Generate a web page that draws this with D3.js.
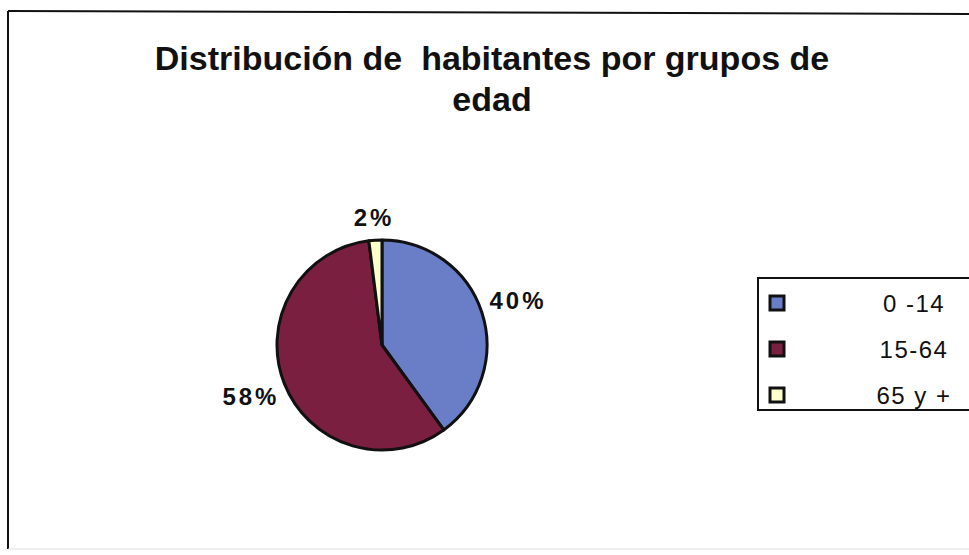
<!DOCTYPE html>
<html>
<head>
<meta charset="utf-8">
<script src="https://cdn.jsdelivr.net/npm/d3@7"></script>
<style>
  body { margin: 0; background: #fff; }
  svg { display: block; font-family: "Liberation Sans", Arial, sans-serif; }
</style>
</head>
<body>
<div id="chart"></div>
<script>
// data
var categories = ["0 -14", "15-64", "65 y +"];
var values = [40, 58, 2];
var labels = ["40%", "58%", "2%"];
var colors = ["#6a7ec8", "#7b1f40", "#ffffcc"];
var titleLines = ["Distribución de  habitantes por grupos de", "edad"];

var width = 969, height = 555;

var svg = d3.select("#chart")
    .append("svg")
        .attr("width", width)
        .attr("height", height);

// chart frame
svg.append("line").attr("x1", 8).attr("y1", 11).attr("x2", width).attr("y2", 14)
    .attr("stroke", "#111").attr("stroke-width", 2);
svg.append("line").attr("x1", 8).attr("y1", 11).attr("x2", 8).attr("y2", 549)
    .attr("stroke", "#111").attr("stroke-width", 2);
svg.append("line").attr("x1", 8).attr("y1", 549).attr("x2", width).attr("y2", 549)
    .attr("stroke", "#ddd").attr("stroke-width", 1);

// title
svg.append("g")
    .selectAll("text")
    .data(titleLines)
    .enter()
    .append("text")
        .attr("x", 492)
        .attr("y", function(d, i) { return 70 + i * 41; })
        .attr("text-anchor", "middle")
        .attr("font-size", "34px")
        .attr("font-weight", "bold")
        .attr("fill", "#111")
        .style("white-space", "pre")
        .text(function(d) { return d; });

// pie
var cx = 382, cy = 345, r = 105;
var pie = d3.pie().sort(null).value(function(d) { return d; });
var arcs = pie(values);
var arc = d3.arc().innerRadius(0).outerRadius(r);

var g = svg.append("g").attr("transform", "translate(" + cx + "," + cy + ")");
g.selectAll("path")
    .data(arcs)
    .enter()
    .append("path")
        .attr("d", arc)
        .attr("fill", function(d, i) { return colors[i]; })
        .attr("stroke", "#111")
        .attr("stroke-width", 3)
        .attr("stroke-linejoin", "round");

// percent labels, placed outside along each slice's mid angle
var labelR = [r + 38, r + 36, r + 23];
g.selectAll("text")
    .data(arcs)
    .enter()
    .append("text")
        .attr("x", function(d, i) {
            var a = (d.startAngle + d.endAngle) / 2;
            return Math.sin(a) * labelR[i];
        })
        .attr("y", function(d, i) {
            var a = (d.startAngle + d.endAngle) / 2;
            return -Math.cos(a) * labelR[i];
        })
        .attr("dy", "0.35em")
        .attr("text-anchor", "middle")
        .attr("font-size", "24px")
        .attr("font-weight", "bold")
        .attr("letter-spacing", "3px")
        .attr("fill", "#111")
        .text(function(d, i) { return labels[i]; });

// legend
var legend = svg.append("g");
legend.append("rect")
    .attr("x", 758).attr("y", 278)
    .attr("width", 230).attr("height", 132)
    .attr("fill", "#fff")
    .attr("stroke", "#111")
    .attr("stroke-width", 2);

var items = legend.selectAll("g.item")
    .data(categories)
    .enter()
    .append("g")
        .attr("transform", function(d, i) { return "translate(0," + (303 + i * 46) + ")"; });
items.append("rect")
    .attr("x", 770).attr("y", -7)
    .attr("width", 14).attr("height", 14)
    .attr("fill", function(d, i) { return colors[i]; })
    .attr("stroke", "#111")
    .attr("stroke-width", 3);
items.append("text")
    .attr("x", 914)
    .attr("dy", "0.36em")
    .attr("text-anchor", "middle")
    .attr("font-size", "24px")
    .attr("letter-spacing", "1.5px")
    .attr("fill", "#111")
    .text(function(d) { return d; });
</script>
</body>
</html>
